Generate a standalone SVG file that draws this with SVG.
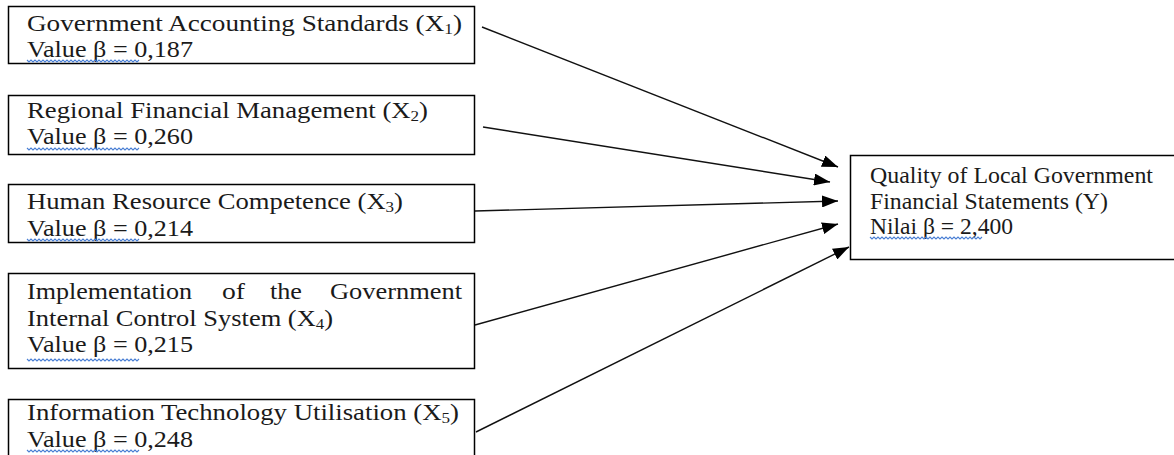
<svg xmlns="http://www.w3.org/2000/svg" xmlns:xlink="http://www.w3.org/1999/xlink" width="1174" height="455" viewBox="0 0 1174 455">
<style>
.box{fill:#fff;stroke:#000;stroke-width:1.5}
.t{font-family:"Liberation Serif","Times New Roman",serif;font-size:23.5px;fill:#1a1a1a}
.sub{font-size:15px}
.sq{fill:none;stroke:#4a7fd4;stroke-width:1.1}
.con{stroke:#111;stroke-width:1.4;fill:none;marker-end:url(#ah)}
</style>
<defs>
<marker id="ah" viewBox="0 0 16 12" refX="16" refY="6" markerWidth="16" markerHeight="12" markerUnits="userSpaceOnUse" orient="auto">
<path d="M0,0 L16,6 L0,12 z" fill="#000"/>
</marker>
<path id="squig" d="M0,0 l2,2 l2,-2 l2,2 l2,-2 l2,2 l2,-2 l2,2 l2,-2 l2,2 l2,-2 l2,2 l2,-2 l2,2 l2,-2 l2,2 l2,-2 l2,2 l2,-2 l2,2 l2,-2 l2,2 l2,-2 l2,2 l2,-2 l2,2 l2,-2 l2,2 l2,-2 l2,2 l2,-2 l2,2 l2,-2 l2,2 l2,-2 l2,2 l2,-2 l2,2 l2,-2 l2,2 l2,-2 l2,2 l2,-2 l2,2 l2,-2 l2,2 l2,-2 l2,2 l2,-2 l2,2 l2,-2 l2,2 l2,-2 l2,2 l2,-2 l2,2 l2,-2"/>
</defs>
<g id="connectors">
<line class="con" x1="482" y1="27" x2="838" y2="167"/>
<line class="con" x1="483" y1="127" x2="830" y2="182"/>
<line class="con" x1="475" y1="211" x2="838" y2="201"/>
<line class="con" x1="475" y1="325" x2="838" y2="224"/>
<line class="con" x1="476" y1="432" x2="849" y2="247"/>
</g>
<g id="x1">
<rect class="box" x="8.5" y="6.5" width="466" height="57"/>
<text class="t" x="27" y="31" textLength="435" lengthAdjust="spacingAndGlyphs">Government Accounting Standards (X<tspan class="sub" dy="3">1</tspan><tspan dy="-3">)</tspan></text>
<text class="t" x="27" y="57" textLength="166" lengthAdjust="spacingAndGlyphs">Value β = 0,187</text>
<use href="#squig" xlink:href="#squig" class="sq" transform="translate(27,60)"/>
</g>
<g id="x2">
<rect class="box" x="8.5" y="95.5" width="466" height="59"/>
<text class="t" x="27" y="118" textLength="401" lengthAdjust="spacingAndGlyphs">Regional Financial Management (X<tspan class="sub" dy="3">2</tspan><tspan dy="-3">)</tspan></text>
<text class="t" x="27" y="144" textLength="166" lengthAdjust="spacingAndGlyphs">Value β = 0,260</text>
<use href="#squig" xlink:href="#squig" class="sq" transform="translate(27,148)"/>
</g>
<g id="x3">
<rect class="box" x="8.5" y="184.5" width="466" height="58"/>
<text class="t" x="27" y="209" textLength="376" lengthAdjust="spacingAndGlyphs">Human Resource Competence (X<tspan class="sub" dy="3">3</tspan><tspan dy="-3">)</tspan></text>
<text class="t" x="27" y="236" textLength="166" lengthAdjust="spacingAndGlyphs">Value β = 0,214</text>
<use href="#squig" xlink:href="#squig" class="sq" transform="translate(27,239)"/>
</g>
<g id="x4">
<rect class="box" x="8.5" y="273.5" width="466" height="95"/>
<text class="t" x="27" y="299" textLength="165" lengthAdjust="spacingAndGlyphs">Implementation</text>
<text class="t" x="222" y="299" textLength="23" lengthAdjust="spacingAndGlyphs">of</text>
<text class="t" x="270" y="299" textLength="32" lengthAdjust="spacingAndGlyphs">the</text>
<text class="t" x="330" y="299" textLength="132" lengthAdjust="spacingAndGlyphs">Government</text>
<text class="t" x="27" y="326" textLength="306" lengthAdjust="spacingAndGlyphs">Internal Control System (X<tspan class="sub" dy="3">4</tspan><tspan dy="-3">)</tspan></text>
<text class="t" x="27" y="352" textLength="166" lengthAdjust="spacingAndGlyphs">Value β = 0,215</text>
<use href="#squig" xlink:href="#squig" class="sq" transform="translate(27,359)"/>
</g>
<g id="x5">
<rect class="box" x="8.5" y="399.5" width="466" height="70"/>
<text class="t" x="27" y="420" textLength="432" lengthAdjust="spacingAndGlyphs">Information Technology Utilisation (X<tspan class="sub" dy="3">5</tspan><tspan dy="-3">)</tspan></text>
<text class="t" x="27" y="447" textLength="166" lengthAdjust="spacingAndGlyphs">Value β = 0,248</text>
<use href="#squig" xlink:href="#squig" class="sq" transform="translate(27,450)"/>
</g>
<g id="y">
<rect class="box" x="850.5" y="155.5" width="340" height="104"/>
<text class="t" x="870" y="183" textLength="283" lengthAdjust="spacingAndGlyphs">Quality of Local Government</text>
<text class="t" x="870" y="209" textLength="238" lengthAdjust="spacingAndGlyphs">Financial Statements (Y)</text>
<text class="t" x="870" y="234" textLength="143" lengthAdjust="spacingAndGlyphs">Nilai β = 2,400</text>
<use href="#squig" xlink:href="#squig" class="sq" transform="translate(870,237)"/>
</g>
</svg>
